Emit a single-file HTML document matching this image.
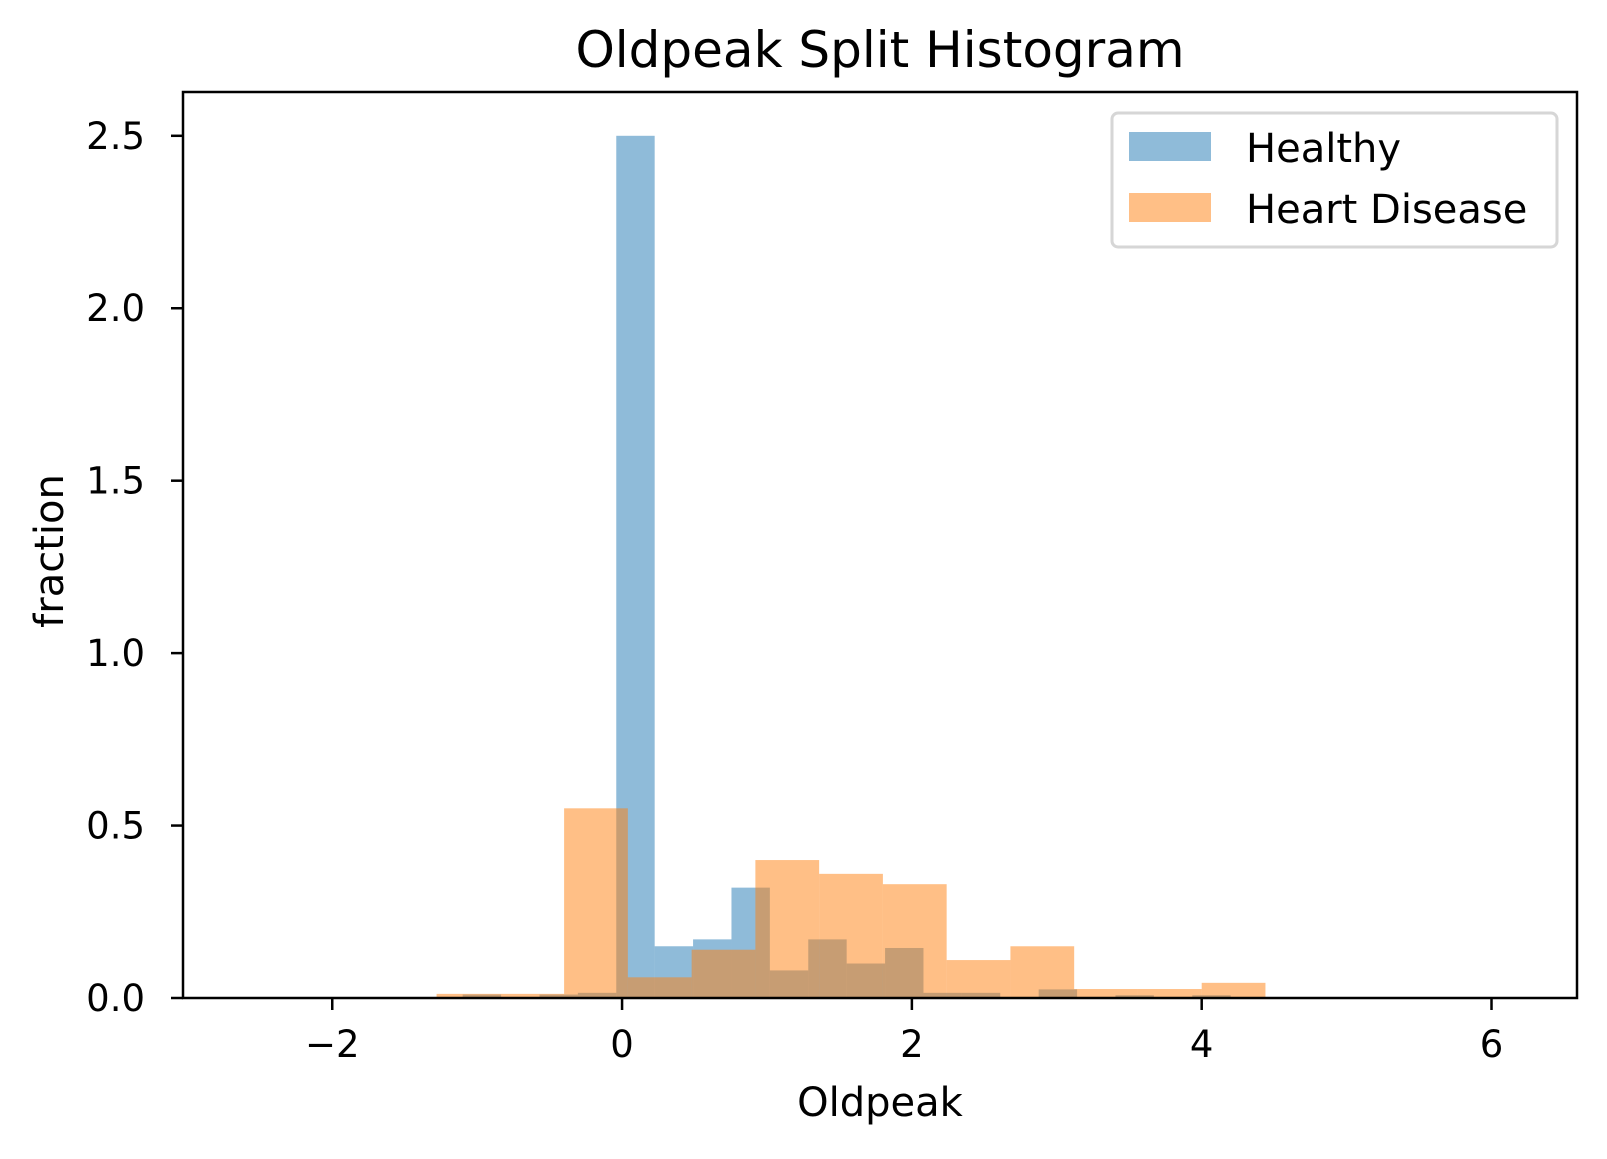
<!DOCTYPE html>
<html><head><meta charset="utf-8"><style>
body{margin:0;background:#fff}
svg text{font-family:"DejaVu Sans","Liberation Sans",sans-serif;fill:#000}
</style></head><body>
<svg id="chart" width="1607" height="1154" viewBox="0 0 1607 1154" xmlns="http://www.w3.org/2000/svg">
<text x="880" y="67" font-size="50" text-anchor="middle">Oldpeak Split Histogram</text>
<g id="bars"></g>
<g id="axes"></g>
<text x="880" y="1116" font-size="40" text-anchor="middle">Oldpeak</text>
<text x="0" y="0" font-size="40" text-anchor="middle" transform="translate(63,551) rotate(-90)">fraction</text>
<g>
<rect x="1112" y="113" width="445" height="134" rx="6" fill="#fff" fill-opacity="0.8" stroke="#d6d6d6" stroke-width="3"/>
<rect x="1129" y="132" width="82" height="29" fill="#1f77b4" fill-opacity="0.5"/>
<text x="1246" y="162" font-size="40">Healthy</text>
<rect x="1129" y="193" width="82" height="29" fill="#ff7f0e" fill-opacity="0.5"/>
<text x="1246" y="223" font-size="40">Heart Disease</text>
</g>
</svg>
<script>
const healthyStart = -1.1;
const healthyWidth = 0.265;
const healthyValues = [0.01,0,0.01,0.015,2.50,0.15,0.17,0.32,0.08,0.17,0.10,0.145,0.015,0.015,0,0.025,0,0.008,0,0.008];
const diseaseStart = -1.28;
const diseaseWidth = 0.44;
const diseaseValues = [0.012,0.012,0.55,0.06,0.14,0.40,0.36,0.33,0.11,0.15,0.026,0.026,0.044];
const xTicks = [-2,0,2,4,6];
const xTickLabels = ["\u22122","0","2","4","6"];
const yTicks = [0,0.5,1.0,1.5,2.0,2.5];
const yTickLabels = ["0.0","0.5","1.0","1.5","2.0","2.5"];

const L=183,R=1577,T=92,B=998;
const xMin=-3.03,xMax=6.59,yMax=2.627;
const sx=v=>L+(v-xMin)/(xMax-xMin)*(R-L);
const sy=v=>B-v/yMax*(B-T);
const NS="http://www.w3.org/2000/svg";
const bars=document.getElementById('bars');
const axes=document.getElementById('axes');
function mk(tag,attrs,parent){const e=document.createElementNS(NS,tag);for(const k in attrs)e.setAttribute(k,attrs[k]);parent.appendChild(e);return e;}
healthyValues.forEach((v,i)=>{
  if(v<=0)return;
  const x0=sx(healthyStart+i*healthyWidth),x1=sx(healthyStart+(i+1)*healthyWidth);
  const r=mk('rect',{x:x0,y:sy(v),width:x1-x0,height:B-sy(v),fill:'#1f77b4','fill-opacity':0.5},bars);
  
  
});
diseaseValues.forEach((v,i)=>{
  if(v<=0)return;
  const x0=sx(diseaseStart+i*diseaseWidth),x1=sx(diseaseStart+(i+1)*diseaseWidth);
  const r=mk('rect',{x:x0,y:sy(v),width:x1-x0,height:B-sy(v),fill:'#ff7f0e','fill-opacity':0.5},bars);
  
  
});
const frame=mk('rect',{x:L,y:T,width:R-L,height:B-T,fill:'none',stroke:'#000','stroke-width':2.5},axes);


xTicks.forEach((v,i)=>{
  const x=sx(v);
  const t=mk('line',{x1:x,x2:x,y1:B,y2:B+12,stroke:'#000','stroke-width':2.5},axes);
  
  
  const l=mk('text',{x:x,y:B+59,'font-size':37,'text-anchor':'middle'},axes);
  l.textContent=xTickLabels[i];
  
  
});
yTicks.forEach((v,i)=>{
  const y=sy(v);
  const t=mk('line',{x1:L-12,x2:L,y1:y,y2:y,stroke:'#000','stroke-width':2.5},axes);
  
  
  const l=mk('text',{x:L-38,y:y+13,'font-size':37,'text-anchor':'end'},axes);
  l.textContent=yTickLabels[i];
  
  
});
</script>
</body></html>
